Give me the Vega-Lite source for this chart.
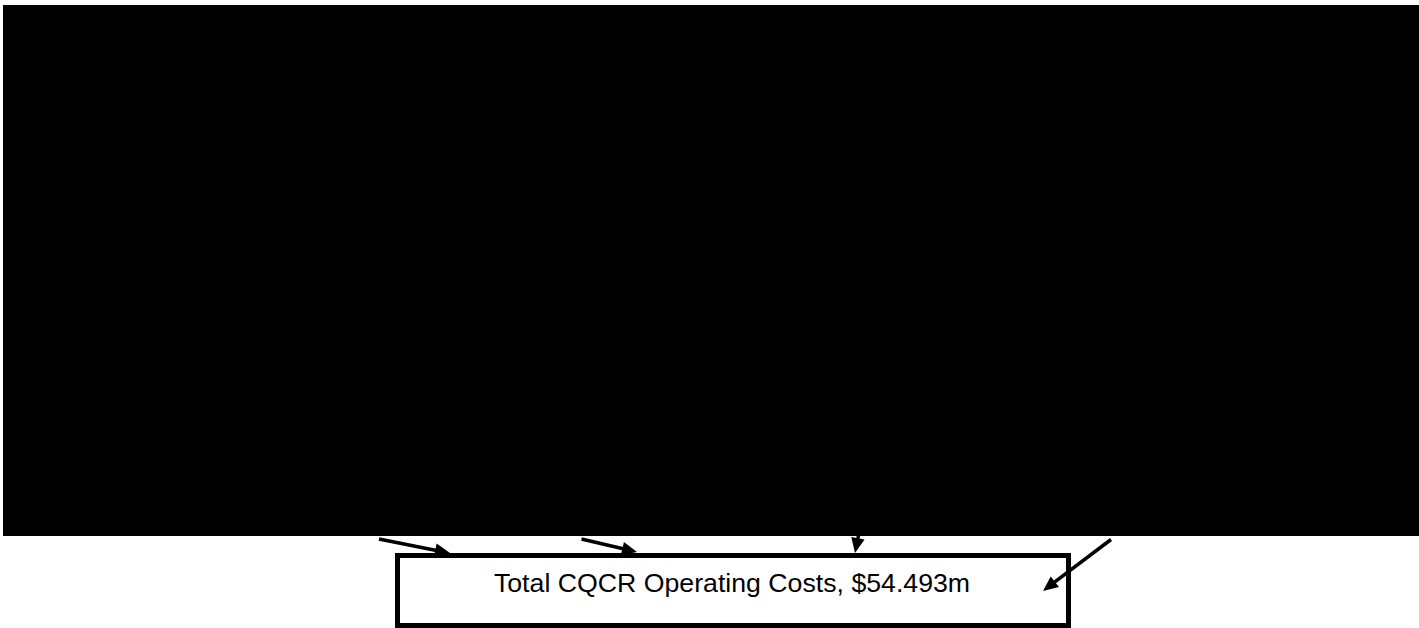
{
  "$schema": "https://vega.github.io/schema/vega-lite/v6.json",
  "width": 1419,
  "height": 628,
  "autosize": {"type": "fit", "contains": "padding"},
  "padding": 0,
  "background": "white",
  "config": {"view": {"stroke": null}},
  "datasets": {
    "panel": [{"name": "chart area", "x0": 3, "x1": 1419, "y0": 5, "y1": 536}],
    "box": [{"label": "Total CQCR Operating Costs, $54.493m", "x0": 397.5, "x1": 1068.5, "y0": 555.5, "y1": 625.5, "tx": 732, "ty": 592}],
    "arrows": [
      {"id": 1, "sx": 379, "sy": 539, "ex": 440.2, "ey": 551.2, "tipx": 450, "tipy": 553, "angle": 11.3},
      {"id": 2, "sx": 581.5, "sy": 539, "ex": 627.3, "ey": 549.7, "tipx": 637, "tipy": 552, "angle": 13.2},
      {"id": 3, "sx": 859.6, "sy": 530, "ex": 857, "ey": 543.2, "tipx": 855, "tipy": 553, "angle": 101.3},
      {"id": 4, "sx": 1111, "sy": 539.5, "ex": 1050.9, "ey": 584.9, "tipx": 1043, "tipy": 591, "angle": 142.1}
    ]
  },
  "layer": [
    {
      "data": {"name": "box"},
      "mark": {"type": "rect", "fill": "white", "stroke": "black", "strokeWidth": 5},
      "encoding": {
        "x": {"field": "x0", "type": "quantitative", "scale": {"domain": [0, 1419], "nice": false, "zero": false}, "axis": null},
        "x2": {"field": "x1"},
        "y": {"field": "y0", "type": "quantitative", "scale": {"domain": [0, 628], "nice": false, "zero": false, "reverse": true}, "axis": null},
        "y2": {"field": "y1"}
      }
    },
    {
      "data": {"name": "box"},
      "mark": {"type": "text", "font": "Liberation Sans", "fontSize": 26.7, "align": "center", "baseline": "alphabetic", "color": "black"},
      "encoding": {
        "x": {"field": "tx", "type": "quantitative"},
        "y": {"field": "ty", "type": "quantitative"},
        "text": {"field": "label"}
      }
    },
    {
      "data": {"name": "arrows"},
      "mark": {"type": "rule", "color": "black", "strokeWidth": 3.5},
      "encoding": {
        "x": {"field": "sx", "type": "quantitative"},
        "y": {"field": "sy", "type": "quantitative"},
        "x2": {"field": "ex"},
        "y2": {"field": "ey"}
      }
    },
    {
      "data": {"name": "arrows"},
      "mark": {"type": "point", "shape": "M0,0L-1,-0.45L-1,0.45Z", "filled": true, "color": "black", "opacity": 1, "size": 900},
      "encoding": {
        "x": {"field": "tipx", "type": "quantitative"},
        "y": {"field": "tipy", "type": "quantitative"},
        "angle": {"field": "angle", "type": "quantitative", "scale": null}
      }
    },
    {
      "data": {"name": "panel"},
      "mark": {"type": "rect", "color": "black"},
      "encoding": {
        "x": {"field": "x0", "type": "quantitative"},
        "x2": {"field": "x1"},
        "y": {"field": "y0", "type": "quantitative"},
        "y2": {"field": "y1"}
      }
    }
  ]
}
